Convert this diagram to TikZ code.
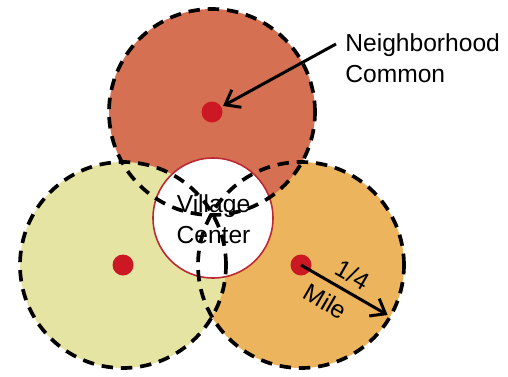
\documentclass[tikz,border=0pt]{standalone}
\usepackage{fontspec}
\setmainfont{Liberation Sans}
\usetikzlibrary{arrows.meta,calc}

\definecolor{topfill}{RGB}{214,112,82}
\definecolor{leftfill}{RGB}{230,228,162}
\definecolor{rightfill}{RGB}{236,180,92}
\definecolor{dotred}{RGB}{204,24,34}
\definecolor{ringred}{RGB}{190,40,50}

\tikzset{
  walk/.style={draw=black,line width=2.1pt,dash pattern=on 6.5pt off 4.5pt},
  hub/.style={circle,fill=dotred,minimum size=0.42cm,inner sep=0pt},
  lbl/.style={font=\fontsize{14}{16.5}\selectfont,inner sep=0pt}
}

\begin{document}
\begin{tikzpicture}[>={Straight Barb[length=2.6mm,width=4mm]}]
  \useasboundingbox (0,0) rectangle (10.16,7.52);
  % neighbourhood circles
  \coordinate (T) at (4.24,5.28);
  \coordinate (L) at (2.46,2.22);
  \coordinate (R) at (6.02,2.22);
  \fill[rightfill] (R) circle (2.06);
  \fill[topfill] (T) circle (2.06);
  \fill[leftfill] (L) circle (2.06);
  \node[circle,fill=white,draw=ringred,line width=0.9pt,minimum size=2.4cm] (VC) at (4.26,3.16) {};
  \draw[walk] (R) circle (2.06);
  \draw[walk] (T) circle (2.06);
  \draw[walk] (L) circle (2.06);
  % centers
  \node[hub] (Tdot) at (T) {};
  \node[hub] (Ldot) at (L) {};
  \node[hub] (Rdot) at (R) {};
  \node[lbl,align=center] (VCt) at (4.27,3.14) {Village\\[1pt]Center};
  \node[lbl,align=left,anchor=west] (NC) at (6.9,6.35) {Neighborhood\\[1pt]Common};
  \coordinate (NCs) at (6.72,6.64);
  \coordinate (edge) at ($(R)+(-30:2.0)$);
  \draw[->,line width=1.7pt,shorten >=1pt] (NCs) -- (Tdot);
  \draw[->,line width=1.7pt] (Rdot.center) -- (edge)
    node[lbl,midway,sloped,above=4pt] {1/4}
    node[lbl,midway,sloped,below=5pt,xshift=-6pt] {Mile};
\end{tikzpicture}
\end{document}
